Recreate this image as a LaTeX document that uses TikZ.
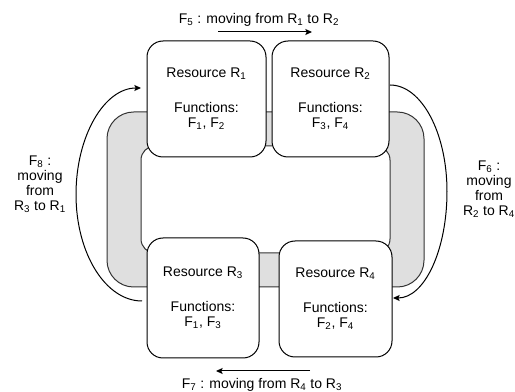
\documentclass[tikz,border=0pt]{standalone}
\usepackage{fontspec}
\setmainfont{Liberation Sans}
\usetikzlibrary{arrows.meta}
\begin{document}
\begin{tikzpicture}[x=0.75pt,y=-0.75pt,
  every node/.style={font=\fontsize{10.5}{11.25}\selectfont},
  res/.style={draw=black, fill=white, line width=0.75pt, rounded corners=12pt, align=center, inner sep=0pt},
  ringout/.style={draw=black!80, fill=gray!25, line width=0.75pt, rounded corners=20pt, inner sep=0pt},
  ringin/.style={draw=black!80, fill=white, line width=0.75pt, rounded corners=10.5pt, inner sep=0pt},
  flow/.style={line width=0.75pt, -{Stealth[length=5pt,width=4.5pt,inset=1pt]}},
  lbl/.style={align=center, inner sep=0pt}
]
\useasboundingbox (0,0) rectangle (515,392);
% ring
\node[ringout, minimum width=237.75pt, minimum height=131.25pt] (outer) at (265.5,199.5) {};
\node[ringin, minimum width=186.75pt, minimum height=80.25pt] (inner) at (265.5,199.5) {};
% resources
\node[res, minimum width=89.25pt, minimum height=87pt] (r1) at (206.5,99)
  {Resource R\textsubscript{1}\\[15pt]Functions:\\F\textsubscript{1}, F\textsubscript{2}};
\node[res, minimum width=87.75pt, minimum height=87pt] (r2) at (330.5,99)
  {Resource R\textsubscript{2}\\[15pt]Functions:\\F\textsubscript{3}, F\textsubscript{4}};
\node[res, minimum width=84pt, minimum height=90pt] (r3) at (203,298)
  {Resource R\textsubscript{3}\\[15pt]Functions:\\F\textsubscript{1}, F\textsubscript{3}};
\node[res, minimum width=84.75pt, minimum height=87pt] (r4) at (335.5,299)
  {Resource R\textsubscript{4}\\[15pt]Functions:\\F\textsubscript{2}, F\textsubscript{4}};
% labels
\node[lbl] (f5) at (259,20) {F\textsubscript{5} : moving from R\textsubscript{1} to R\textsubscript{2}};
\node[lbl] (f7) at (262,385) {F\textsubscript{7} : moving from R\textsubscript{4} to R\textsubscript{3}};
\node[lbl] (f8) at (40,184.5) {F\textsubscript{8} :\\moving\\from\\R\textsubscript{3} to R\textsubscript{1}};
\node[lbl] (f6) at (489,189.5) {F\textsubscript{6} :\\moving\\from\\R\textsubscript{2} to R\textsubscript{4}};
% connectors
\coordinate (f5s) at (218,32); \coordinate (f5e) at (312,32);
\coordinate (f7s) at (310,371); \coordinate (f7e) at (216,371);
\coordinate (f8s) at (142,301); \coordinate (f8m) at (76,194.5); \coordinate (f8e) at (141,88);
\coordinate (f6s) at (390,85); \coordinate (f6m) at (447,191.5); \coordinate (f6e) at (393,298);
\draw[flow] (f5s) -- (f5e);
\draw[flow] (f7s) -- (f7e);
\draw[flow] (f8s) .. controls (105.5,301) and (76,253.3) .. (f8m) .. controls (76,135.7) and (104.5,88) .. (f8e);
\draw[flow] (f6s) .. controls (421.5,85) and (447,132.7) .. (f6m) .. controls (447,250.3) and (424.5,298) .. (f6e);
\end{tikzpicture}
\end{document}
